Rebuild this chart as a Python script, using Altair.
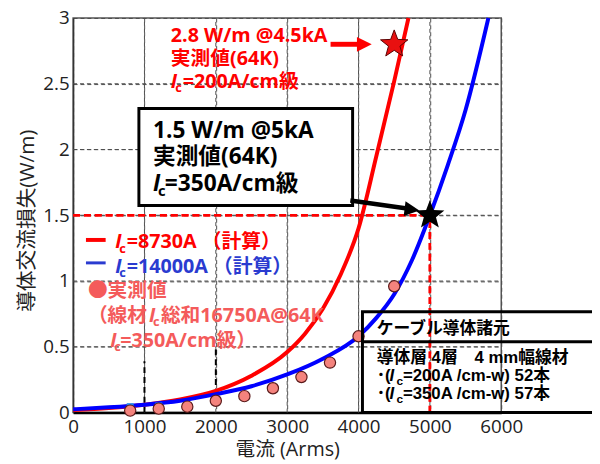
import math
import altair as alt
import pandas as pd

# ---------------- data ----------------
red_x = [0, 500, 1000, 1500, 2000, 2500, 3000, 3250, 3500, 3750, 4000, 4250, 4500, 4700]
red_y = [0.02, 0.035, 0.06, 0.10, 0.165, 0.28, 0.46, 0.60, 0.79, 1.05, 1.40, 1.95, 2.52, 3.0]
blue_x = [0, 500, 1000, 1500, 2000, 2500, 3000, 3500, 4000, 4250, 4500, 4750, 5000, 5250, 5500, 5820]
blue_y = [0.025, 0.04, 0.06, 0.09, 0.14, 0.20, 0.29, 0.41, 0.58, 0.72, 0.90, 1.16, 1.50, 1.88, 2.30, 3.0]
meas_x = [800, 1200, 1600, 2000, 2400, 2800, 3200, 3600, 4000, 4500]
meas_y = [0.015, 0.03, 0.045, 0.09, 0.125, 0.185, 0.27, 0.38, 0.58, 0.96]
hidden_x = [800, 1200]
hidden_y = [0.045, 0.05]
star_red_x, star_red_y = [4500], [2.8]
star_black_x, star_black_y = [5000], [1.5]
ref_x, ref_y = 5000, 1.5
x_ticks = [0, 1000, 2000, 3000, 4000, 5000, 6000]
y_ticks = [0, 0.5, 1, 1.5, 2, 2.5, 3]

# ---------------- styles ----------------
LAT = "'Open Sans', 'Noto Sans CJK JP'"
CJK = "'Noto Sans CJK JP'"
ARI = "'Liberation Sans', 'Noto Sans CJK JP'"
RED = "#FF0000"
BLUE = "#0000FF"
PINK = "#F45B5B"
LBLUE = "#2A3BD0"
GRID = "#4D4D4D"

# five-pointed star symbol path in unit coordinates
_pts = []
for k in range(10):
    r = 1.0 if k % 2 == 0 else 0.42
    a = math.radians(-90 + 36 * k)
    _pts.append(f"{r * math.cos(a):.3f},{r * math.sin(a):.3f}")
STAR = "M" + "L".join(_pts) + "Z"
HEAD = "M-1,-1L1,0L-1,1Z"

xs = alt.Scale(domain=[0, 6000], nice=False, zero=False)
ys = alt.Scale(domain=[0, 3], nice=False, zero=False)

xaxis = alt.Axis(values=x_ticks, format="d", labelFontSize=19, labelFont="Open Sans", labelColor="#222",
                 labelPadding=5, ticks=False, grid=True, gridColor=GRID, gridDash=[4, 3], gridWidth=1,
                 domainColor="#000", domainWidth=2.5,
                 labelFlush=False, labelOverlap=False, titleFont=LAT, titleFontSize=20,
                 titleFontWeight="normal", titleColor="#222", titleX=217, titleY=44,
                 titleBaseline="alphabetic")
yaxis = alt.Axis(values=y_ticks, format="~g", labelFontSize=19, labelFont="Open Sans",
                 labelColor="#222", labelPadding=4, ticks=False, grid=True, gridColor=GRID,
                 gridDash=[4, 3], gridWidth=1,
                 domainColor="#333", domainWidth=1.5,
                 labelFlush=False, labelOverlap=False, titleFont=LAT,
                 titleFontSize=21, titleFontWeight="normal", titleColor="#222", titleX=-40,
                 titleY=205, titleBaseline="alphabetic")
XT = "電流 (Arms)"
YT = "導体交流損失(W/m)"


def X(f="x"):
    return alt.X(f"{f}:Q", scale=xs, axis=xaxis, title=XT)


def Y(f="y"):
    return alt.Y(f"{f}:Q", scale=ys, axis=yaxis, title=YT)


def df(**kw):
    return pd.DataFrame(kw)


layers = []

# red dashed reference lines
layers.append(alt.Chart(df(x=[0], x2=[ref_x], y=[ref_y])).mark_rule(color=RED, strokeWidth=2.5, strokeDash=[7, 4])
              .encode(x=X(), x2="x2", y=Y()))
layers.append(alt.Chart(df(x=[ref_x], y=[0], y2=[ref_y])).mark_rule(color=RED, strokeWidth=2.5, strokeDash=[7, 4])
              .encode(x=X(), y=Y(), y2="y2"))

# dashed grid drawn from the tick lists, one rule layer per line
for gxv in x_ticks[1:-1]:
    layers.append(alt.Chart(df(x=[gxv], y=[y_ticks[0]], y2=[y_ticks[-1]]))
                  .mark_rule(color=GRID, strokeWidth=1, strokeDash=[4, 3])
                  .encode(x=X(), y=Y(), y2="y2"))
for gyv in y_ticks[1:-1]:
    layers.append(alt.Chart(df(x=[x_ticks[0]], x2=[x_ticks[-1] if gyv != ref_y else x_ticks[-1]], y=[gyv]))
                  .mark_rule(color=GRID, strokeWidth=1, strokeDash=[4, 3])
                  .encode(x=X(), x2="x2", y=Y()))

# red dashed reference lines again, above the grid
layers.append(alt.Chart(df(x=[0], x2=[ref_x], y=[ref_y])).mark_rule(color=RED, strokeWidth=2.5, strokeDash=[7, 4])
              .encode(x=X(), x2="x2", y=Y()))
layers.append(alt.Chart(df(x=[ref_x], y=[0], y2=[ref_y])).mark_rule(color=RED, strokeWidth=2.5, strokeDash=[7, 4])
              .encode(x=X(), y=Y(), y2="y2"))

# white stroke hiding a piece of the 0.5 grid line (as in the source image)
layers.append(alt.Chart(df(x=[1030], x2=[1990], y=[0.5])).mark_rule(color="white", strokeWidth=4)
              .encode(x=X(), x2="x2", y=Y()))

# black dashed fragments
layers.append(alt.Chart(df(x=[1000, 2000], y=[0.0, 0.135], y2=[0.39, 0.50])).mark_rule(color="#000", strokeWidth=2, strokeDash=[6, 4])
              .encode(x=X(), y=Y(), y2="y2"))

# calculated curves
layers.append(alt.Chart(df(x=red_x, y=red_y)).mark_line(color=RED, strokeWidth=4, interpolate="monotone")
              .encode(x=X(), y=Y()))
layers.append(alt.Chart(df(x=blue_x, y=blue_y)).mark_line(color=BLUE, strokeWidth=4, interpolate="monotone")
              .encode(x=X(), y=Y()))

# hidden blue squares and measured points
layers.append(alt.Chart(df(x=hidden_x, y=hidden_y)).mark_point(shape="square", filled=True, color="#2288EE", size=50, opacity=1)
              .encode(x=X(), y=Y()))
layers.append(alt.Chart(df(x=meas_x, y=meas_y)).mark_point(shape="circle", filled=True, fill="#F4837D", stroke="#5A1A1A",
                                                             strokeWidth=1.2, size=130, opacity=1)
              .encode(x=X(), y=Y()))

# black annotation box
layers.append(alt.Chart(df(x=[922], x2=[3917], y=[1.575], y2=[2.312])).mark_rect(fill="white", stroke="#000", strokeWidth=3)
              .encode(x=X(), x2="x2", y=Y(), y2="y2"))

# arrows
layers.append(alt.Chart(df(x=[3608], x2=[4030], y=[2.80])).mark_rule(color=RED, strokeWidth=5)
              .encode(x=X(), x2="x2", y=Y()))
layers.append(alt.Chart(df(x=[4081], y=[2.80])).mark_point(shape=HEAD, filled=True, color=RED, size=225, opacity=1)
              .encode(x=X(), y=Y()))
layers.append(alt.Chart(df(x=[3885], y=[1.6125], x2=[4680], y2=[1.552])).mark_rule(color="#000", strokeWidth=4.5)
              .encode(x=X(), y=Y(), x2="x2", y2="y2"))
layers.append(alt.Chart(df(x=[4749], y=[1.5435])).mark_point(shape=HEAD, filled=True, color="#000", size=225, angle=7, opacity=1)
              .encode(x=X(), y=Y()))

# stars
layers.append(alt.Chart(df(x=star_red_x, y=star_red_y)).mark_point(shape=STAR, filled=True, fill="#E81010", stroke="#5A0000",
                                                                     strokeWidth=1, size=850, opacity=1)
              .encode(x=X(), y=Y()))
layers.append(alt.Chart(df(x=star_black_x, y=star_black_y)).mark_point(shape=STAR, filled=True, color="#000", size=950, opacity=1)
              .encode(x=X(), y=Y()))

# legend dashes
layers.append(alt.Chart(df(x=[180], x2=[456], y=[1.3125])).mark_rule(color=RED, strokeWidth=4)
              .encode(x=X(), x2="x2", y=Y()))
layers.append(alt.Chart(df(x=[180], x2=[456], y=[1.138])).mark_rule(color=LBLUE, strokeWidth=3)
              .encode(x=X(), x2="x2", y=Y()))


def txt(x, y, t, color, size, font=LAT, dx=0, dy=0, italic=False, weight="bold"):
    return (alt.Chart(df(x=[x], y=[y], t=[t]))
            .mark_text(align="left", baseline="alphabetic", dx=dx, dy=dy, fontSize=size, color=color,
                       font=font, fontStyle="italic" if italic else "normal", fontWeight=weight)
            .encode(x=X(), y=Y(), text="t:N"))


def ic_line(x, y, rest, color, size, sub, d1, d2, font=LAT, pre=None, pre_dx=0):
    out = []
    if pre is not None:
        out.append(txt(x, y, pre, color, size, font=font))
    out.append(txt(x, y, "I", color, size, font=font, dx=pre_dx, italic=True))
    out.append(txt(x, y, "c", color, sub, font=font, dx=pre_dx + d1, dy=size * 0.22))
    out.append(txt(x, y, rest, color, size, font=font, dx=pre_dx + d2))
    return out


# red annotation
layers.append(txt(1369, 2.818, "2.8 W/m @4.5kA", RED, 20))
layers.append(txt(1369, 2.645, "実測値(64K)", RED, 20))
layers += ic_line(1369, 2.468, "=200A/cm級", RED, 20, 13, 4.5, 12)

# black annotation
layers.append(txt(1120, 2.087, "1.5 W/m @5kA", "#000", 23))
layers.append(txt(1120, 1.89, "実測値(64K)", "#000", 23))
layers += ic_line(1120, 1.6875, "=350A/cm級", "#000", 23, 15, 5, 12)

# legend texts
layers += ic_line(590, 1.25, "=8730A （計算）", RED, 20, 13, 4, 11.6)
layers += ic_line(590, 1.063, "=14000A （計算）", LBLUE, 20, 13, 4, 11.6)
layers.append(txt(207, 0.875, "●実測値", PINK, 20))
layers += ic_line(207, 0.6875, "総和16750A@64K", PINK, 20, 13, 4, 12, pre="（線材", pre_dx=62)
layers += ic_line(521, 0.50, "=350A/cm級）", PINK, 20, 13, 4, 10)

# specification table (transparent box)
layers.append(alt.Chart(df(x=[4055], x2=[7600], y=[0.0], y2=[0.767])).mark_rect(fill="white", fillOpacity=0, stroke="#000", strokeWidth=3)
              .encode(x=X(), x2="x2", y=Y(), y2="y2"))
layers.append(alt.Chart(df(x=[4055], x2=[7600], y=[0.538])).mark_rule(color="#000", strokeWidth=3)
              .encode(x=X(), x2="x2", y=Y()))
layers.append(txt(4254, 0.60, "ケーブル導体諸元", "#000", 17, font=CJK))
layers.append(txt(4254, 0.375, "導体層 4層　4 mm幅線材", "#000", 17, font=ARI))
layers += ic_line(4254, 0.2375, "=200A /cm-w) 52本", "#000", 17, 12, 7, 13.6, font=ARI, pre="･(", pre_dx=13)
layers += ic_line(4254, 0.10, "=350A /cm-w) 57本", "#000", 17, 12, 7, 13.6, font=ARI, pre="･(", pre_dx=13)

chart = (alt.layer(*layers)
         .properties(width=434, height=400, autosize=alt.AutoSizeParams(type="none"),
                     padding={"left": 66, "top": 7, "right": 92, "bottom": 48},
                     background="white")
         .configure_view(stroke="#555", strokeWidth=1.5))

chart.save("out.html", embed_options={"renderer": "svg", "actions": False})
